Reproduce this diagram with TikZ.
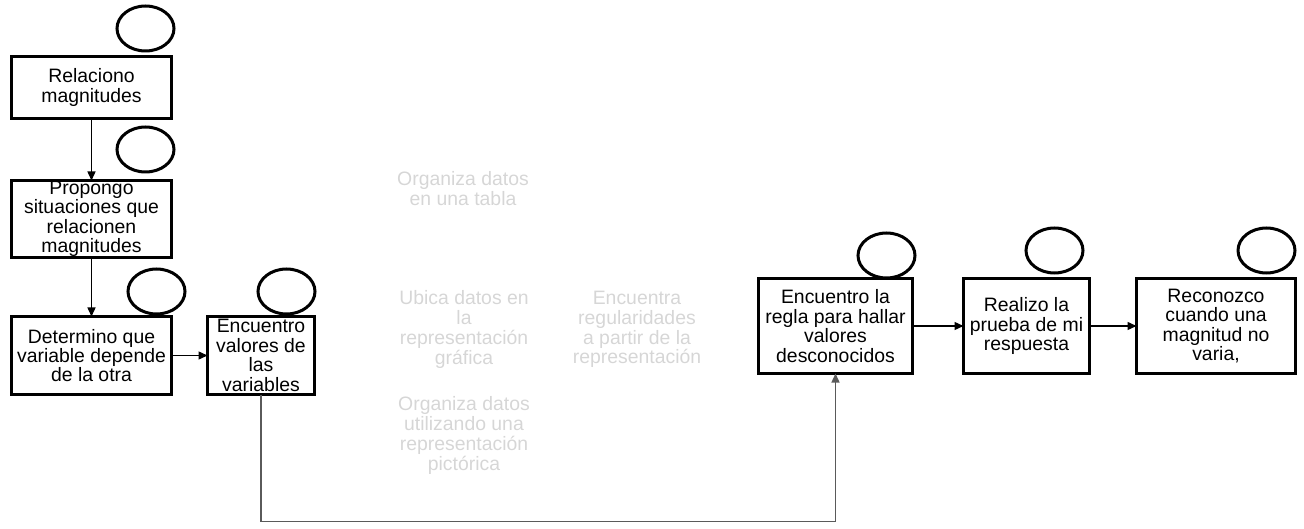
\documentclass[tikz,border=0pt]{standalone}
\usepackage{fontspec}
\setmainfont{Liberation Sans}
\usetikzlibrary{positioning,shapes.geometric,arrows.meta}
\definecolor{hintgray}{HTML}{D6D6D6}
\definecolor{wiregray}{HTML}{5A5A5A}

\begin{document}
\begin{tikzpicture}[
    x=1pt, y=-1pt,
    node distance=62pt and 36pt,
    task/.style = {draw, line width=3pt, fill=white, align=center, inner sep=0pt, outer sep=0pt, minimum width=160pt, font=\fontsize{19.4}{19.4}\selectfont},
    ring/.style = {draw, ellipse, line width=3pt, fill=white, minimum width=57pt, minimum height=45pt, inner sep=0pt},
    hint/.style = {align=center, text=hintgray, font=\fontsize{19.4}{19.8}\selectfont},
    link/.style = {-{Triangle[length=9pt,width=8pt]}, line width=1.4pt}
]
\useasboundingbox (0,0) rectangle (1304,529);

% left column
\node[task, minimum height=62pt] (rel) at (91.5,87.5) {Relaciono\\magnitudes};
\node[task, minimum height=77pt, below=of rel] (prop) {Propongo\\situaciones que\\relacionen\\magnitudes};
\node[task, minimum height=78pt, below=59pt of prop] (det) {Determino que\\variable depende\\de la otra};
\node[task, minimum height=78pt, minimum width=107pt, right=of det] (enc) {Encuentro\\valores de\\las\\variables};

% right row
\node[task, minimum height=95pt, minimum width=154pt] (regla) at (835.5,326) {Encuentro la\\regla para hallar\\valores\\desconocidos};
\node[task, minimum height=95pt, minimum width=126pt, right=51pt of regla] (prueba) {Realizo la\\prueba de mi\\respuesta};
\node[task, minimum height=95pt, minimum width=159pt, right=47pt of prueba] (reconozco) {Reconozco\\cuando una\\magnitud no\\varia,};

% circles
\node[ring] (c1) at ([xshift=-26pt,yshift=28pt]rel.north east) {};
\node[ring] (c2) at ([xshift=-26pt,yshift=31pt]prop.north east) {};
\node[ring] (c3) at ([xshift=-15pt,yshift=25pt]det.north east) {};
\node[ring] (c4) at ([xshift=-28pt,yshift=25pt]enc.north east) {};
\node[ring] (c5) at ([xshift=-26pt,yshift=23pt]regla.north east) {};
\node[ring] (c6) at ([xshift=-35pt,yshift=28pt]prueba.north east) {};
\node[ring] (c7) at ([xshift=-29pt,yshift=28pt]reconozco.north east) {};

% faded texts
\node[hint] (tabla) at (463,188.5) {Organiza datos\\en una tabla};
\node[hint] (grafica) at (464,329.5) {Ubica datos en\\la\\representación\\gráfica};
\node[hint] (regular) at (637,329.5) {Encuentra\\regularidades\\a partir de la\\representación};
\node[hint] (pictorica) at (464,435.5) {Organiza datos\\utilizando una\\representación\\pictórica};

\draw[link] (rel) -- (prop);
\draw[link] (prop) -- (det);
\draw[link] (det) -- (enc);
\draw[link] (regla) -- (prueba);
\draw[link] (prueba) -- (reconozco);

\coordinate (bend) at ([yshift=-127pt]enc.south);
\draw[link, wiregray] (enc.south) -- (bend) -| (regla.south);

\end{tikzpicture}
\end{document}
